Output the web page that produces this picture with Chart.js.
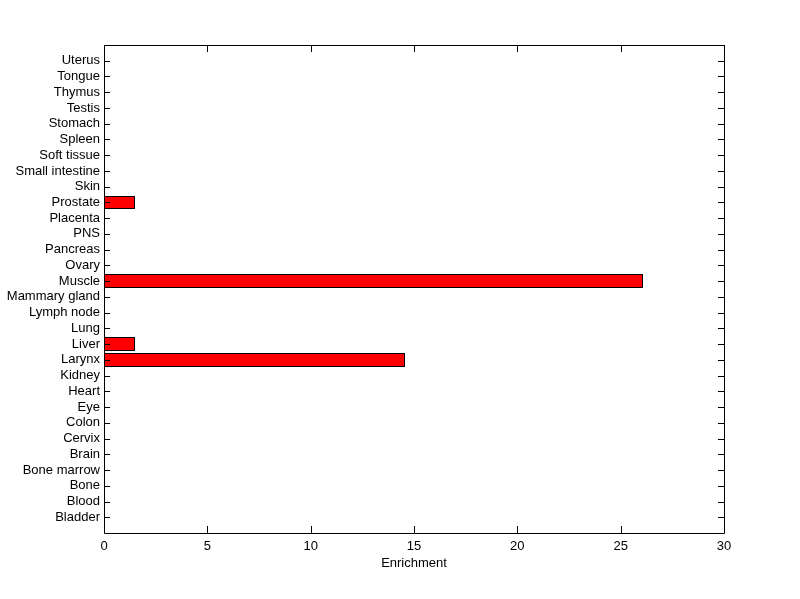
<!DOCTYPE html>
<html>
<head>
<meta charset="utf-8">
<script src="https://cdn.jsdelivr.net/npm/chart.js@4/dist/chart.umd.min.js"></script>
<style>
html,body{margin:0;padding:0;background:#fff;}
#wrap{width:800px;height:599px;}
</style>
</head>
<body>
<div id="wrap"><canvas id="c" width="800" height="599"></canvas></div>
<script>
const categories = ["Bladder","Blood","Bone","Bone marrow","Brain","Cervix","Colon","Eye","Heart","Kidney","Larynx","Liver","Lung","Lymph node","Mammary gland","Muscle","Ovary","Pancreas","PNS","Placenta","Prostate","Skin","Small intestine","Soft tissue","Spleen","Stomach","Testis","Thymus","Tongue","Uterus"];
const enrichment = [0,0,0,0,0,0,0,0,0,0,14.55,1.52,0,0,0,26.1,0,0,0,0,1.52,0,0,0,0,0,0,0,0,0];
const xTicks = [0,5,10,15,20,25,30];
const xLabel = "Enrichment";

const FONT = {family: "Arial, 'Liberation Sans', Helvetica, sans-serif", size: 13};

// snap bar edges (computed by Chart.js) to whole pixels for crisp borders
const crispBars = {
  id: 'crispBars',
  beforeDatasetsDraw(chart) {
    chart.getSortedVisibleDatasetMetas().forEach(meta => {
      meta.data.forEach(el => {
        const top = Math.floor(el.y - el.height / 2);
        const bottom = Math.ceil(el.y + el.height / 2);
        el.y = (top + bottom) / 2;
        el.height = bottom - top;
        el.x = Math.round(el.x);
        el.base = Math.round(el.base);
      });
    });
  }
};

const boxTicks = {
  id: 'boxTicks',
  afterDraw(chart) {
    const ctx = chart.ctx;
    const a = chart.chartArea;
    const xs = chart.scales.x, ys = chart.scales.y;
    ctx.save();
    ctx.strokeStyle = '#000';
    ctx.lineWidth = 1;
    ctx.beginPath();
    ctx.rect(Math.round(a.left)+0.5, Math.round(a.top)+0.5, Math.round(a.right-a.left), Math.round(a.bottom-a.top));
    ctx.stroke();
    ctx.beginPath();
    categories.forEach((c, i) => {
      const y = Math.round(ys.getPixelForValue(i + 1)) + 0.5;
      ctx.moveTo(a.left, y); ctx.lineTo(a.left + 6, y);
      ctx.moveTo(a.right, y); ctx.lineTo(a.right - 6, y);
    });
    xTicks.forEach(v => {
      const x = Math.round(xs.getPixelForValue(v)) + 0.5;
      ctx.moveTo(x, a.bottom); ctx.lineTo(x, a.bottom - 7);
      ctx.moveTo(x, a.top); ctx.lineTo(x, a.top + 7);
    });
    ctx.stroke();
    ctx.restore();
  }
};

new Chart(document.getElementById('c'), {
  type: 'bar',
  data: {
    datasets: [{
      data: enrichment.map((v, i) => ({x: v, y: i + 1})),
      backgroundColor: '#ff0000',
      borderColor: '#000000',
      borderWidth: 1,
      borderSkipped: false,
      barPercentage: 0.8,
      categoryPercentage: 1.0
    }]
  },
  options: {
    indexAxis: 'y',
    responsive: false,
    animation: false,
    events: [],
    layout: {padding: {left: 0, right: 76, top: 45, bottom: 0}},
    plugins: {legend: {display: false}, tooltip: {enabled: false}},
    scales: {
      x: {
        type: 'linear', min: 0, max: 30,
        afterFit(s) { s.height = 66; },
        afterBuildTicks(s) { s.ticks = xTicks.map(v => ({value: v})); },
        grid: {display: false, drawTicks: false},
        border: {display: false},
        ticks: {font: FONT, color: '#000', padding: 6, maxRotation: 0},
        title: {display: true, text: xLabel, font: {family: FONT.family, size: 13}, color: '#000', padding: {top: 0, bottom: 28}}
      },
      y: {
        type: 'linear', min: 0, max: categories.length + 1, offset: false,
        afterFit(s) { s.width = 104; },
        afterBuildTicks(s) { s.ticks = categories.map((c, i) => ({value: i + 1})); },
        grid: {display: false, drawTicks: false, offset: false},
        border: {display: false},
        ticks: {
          font: FONT, color: '#000', padding: 4, autoSkip: false,
          callback: (v) => categories[v - 1] || ''
        }
      }
    }
  },
  plugins: [crispBars, boxTicks]
});
</script>
</body>
</html>
